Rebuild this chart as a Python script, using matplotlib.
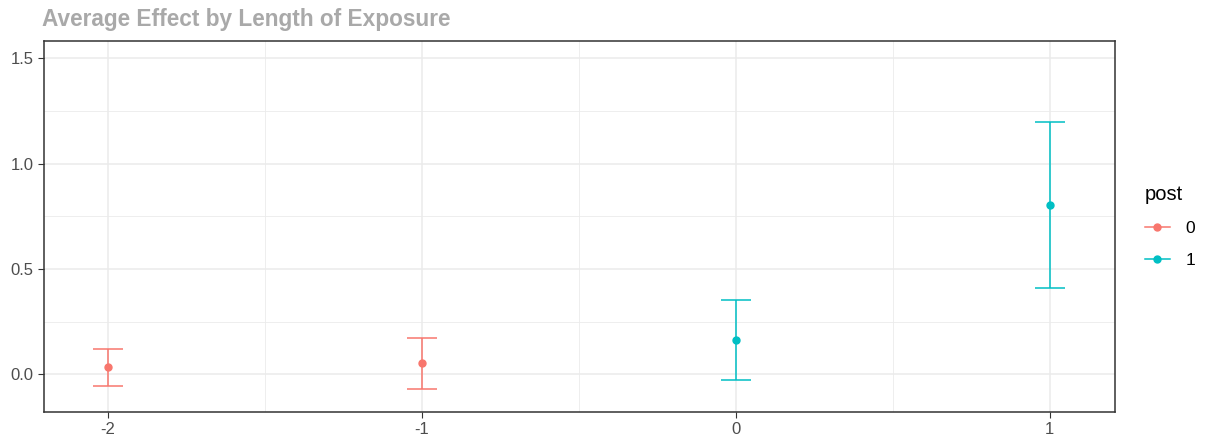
import matplotlib.pyplot as plt
from matplotlib.lines import Line2D

plt.rcParams['font.family'] = ['Liberation Sans', 'DejaVu Sans']

# data
period = [-2, -1, 0, 1]
post = [0, 0, 1, 1]
estimate = [0.033, 0.054, 0.163, 0.802]
lower = [-0.054, -0.070, -0.027, 0.412]
upper = [0.120, 0.174, 0.351, 1.195]

colors = {0: '#F8766D', 1: '#00BFC4'}

fig = plt.figure(figsize=(12.09, 4.40), dpi=100)
ax = fig.add_axes([0.036, 0.063, 0.886, 0.843])

for x, p, est, lo, hi in zip(period, post, estimate, lower, upper):
    c = colors[p]
    ax.errorbar(x, est, yerr=[[est - lo], [hi - est]], fmt='o', color=c,
                ms=5, elinewidth=1.1, capsize=11, capthick=1.1, zorder=3)

ax.set_xlim(-2.205, 1.207)
ax.set_ylim(-0.18, 1.58)
ax.set_xticks(period)
ax.set_xticklabels([str(v) for v in period])
ax.set_yticks([0.0, 0.5, 1.0, 1.5])
ax.set_yticklabels(['0.0', '0.5', '1.0', '1.5'])
ax.set_xticks([-1.5, -0.5, 0.5], minor=True)
ax.set_yticks([0.25, 0.75, 1.25], minor=True)

ax.grid(True, which='major', color='#EBEBEB', lw=1.1, zorder=0)
ax.grid(True, which='minor', color='#EBEBEB', lw=0.6, zorder=0)
ax.set_axisbelow(True)
ax.tick_params(which='major', length=4, color='#333333', labelsize=12,
               labelcolor='#4D4D4D', pad=3)
ax.tick_params(which='minor', length=0)
for s in ax.spines.values():
    s.set_color('#333333')
    s.set_linewidth(1.1)

fig.text(0.035, 0.93, 'Average Effect by Length of Exposure', fontsize=16.3,
         fontweight='bold', color='#A9A9A9', ha='left', va='bottom')

handles = [Line2D([], [], color=colors[k], marker='o', ms=5, lw=1.1) for k in (0, 1)]
leg = fig.legend(handles, ['0', '1'], title='post', loc='upper left',
                 bbox_to_anchor=(0.934, 0.614), frameon=False, fontsize=12.5,
                 title_fontsize=14.5, handlelength=1.45, handletextpad=0.9,
                 labelspacing=0.95, alignment='left')

plt.savefig('out.png', dpi=100)
